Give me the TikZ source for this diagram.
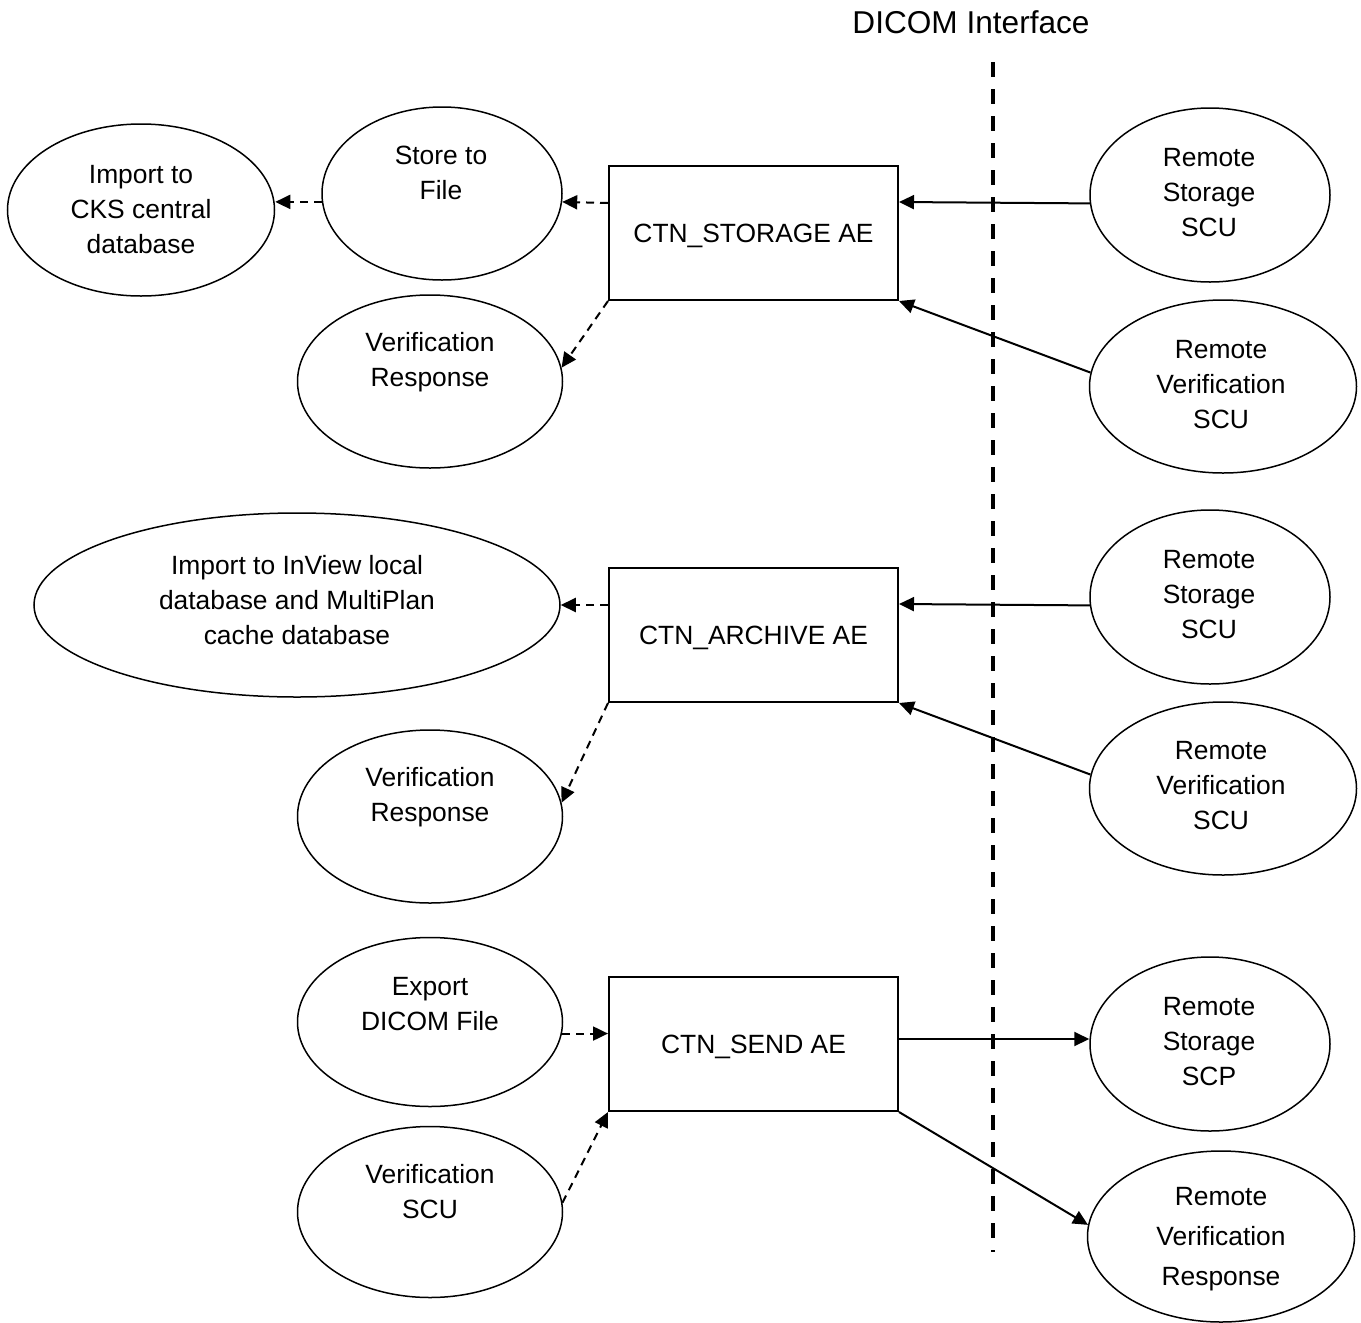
\documentclass[tikz,border=0pt]{standalone}
\usepackage{fontspec}
\setmainfont{Liberation Sans}
\usetikzlibrary{shapes.geometric,arrows.meta,calc}
\begin{document}
\begin{tikzpicture}[x=0.5pt,y=-0.5pt,
  every node/.style={font=\fontsize{13.2}{17.5}\selectfont},
  ell/.style 2 args={draw, ellipse, line width=0.75pt, inner sep=0pt, minimum width={#1*0.5pt}, minimum height={#2*0.5pt}},
  lbl/.style={align=center, inner sep=0pt},
  aebox/.style={draw, rectangle, line width=1pt, inner sep=0pt, minimum width=144.5pt, minimum height=67pt, text depth=0pt},
  arr/.style={line width=1pt, -{Triangle[length=7.5pt,width=7pt]}},
  darr/.style={line width=1pt, dash pattern=on 4pt off 3pt, -{Triangle[length=7.5pt,width=7pt]}},
  divider/.style={line width=2pt, dash pattern=on 7.5pt off 6pt}
]
\useasboundingbox (0,0) rectangle (1361,1323);

% DICOM interface
\node[lbl, font=\fontsize{15.8}{19}\selectfont] (dicom) at (971,22) {DICOM Interface};
\coordinate (dtop) at (993,62);
\coordinate (dbot) at (993,1252);
\draw[divider] (dtop) -- (dbot);

% ---------- Storage ----------
\node[aebox] (stor) at (753.5,233) {CTN\_STORAGE AE};
\node[ell={240}{173}] (stf) at (442,193.5) {};
\node[lbl] (stf-t) at (441,173) {Store to\\File};
\node[ell={267}{172}] (imp) at (141,210) {};
\node[lbl] (imp-t) at (141,210) {Import to\\CKS central\\database};
\node[ell={265}{173}] (ver1) at (430,381.5) {};
\node[lbl] (ver1-t) at (430,362) {Verification\\Response};
\node[ell={240}{174}] (rss1) at (1210,195) {};
\node[lbl] (rss1-t) at (1209,193) {Remote\\Storage\\SCU};
\node[ell={267}{173}] (rvs1) at (1223,386.5) {};
\node[lbl] (rvs1-t) at (1221,385) {Remote\\Verification\\SCU};

\coordinate (storin) at ([yshift=15.5pt]stor.east);
\coordinate (storout) at ([yshift=15pt]stor.west);
\draw[arr] (rss1.184) -- (storin);
\draw[arr] (rvs1.174) -- (stor.south east);
\draw[darr] (storout) -- (stf.-4);
\draw[darr] (stf.184) -- (imp.east |- stf.184);
\draw[darr] (stor.south west) -- (ver1.6);

% ---------- Archive ----------
\node[aebox] (arch) at (753.5,635) {CTN\_ARCHIVE AE};
\node[ell={526}{184}] (inv) at (297,605) {};
\node[lbl] (inv-t) at (297,600) {Import to InView local\\database and MultiPlan\\cache database};
\node[ell={265}{173}] (ver2) at (430,816.5) {};
\node[lbl] (ver2-t) at (430,797) {Verification\\Response};
\node[ell={240}{174}] (rss2) at (1210,597) {};
\node[lbl] (rss2-t) at (1209,595) {Remote\\Storage\\SCU};
\node[ell={267}{173}] (rvs2) at (1223,788.5) {};
\node[lbl] (rvs2-t) at (1221,786) {Remote\\Verification\\SCU};

\coordinate (archin) at ([yshift=15.5pt]arch.east);
\draw[arr] (rss2.184) -- (archin);
\draw[arr] (rvs2.174) -- (arch.south east);
\draw[darr] (arch.west |- inv.east) -- (inv.east);
\draw[darr] (arch.south west) -- (ver2.6);

% ---------- Send ----------
\node[aebox] (send) at (753.5,1044) {CTN\_SEND AE};
\node[ell={265}{169}] (exp) at (430,1022) {};
\node[lbl] (exp-t) at (430,1004) {Export\\DICOM File};
\node[ell={265}{171}] (vscu) at (430,1212) {};
\node[lbl] (vscu-t) at (430,1192) {Verification\\SCU};
\node[ell={240}{174}] (rssp) at (1210,1044) {};
\node[lbl] (rssp-t) at (1209,1042) {Remote\\Storage\\SCP};
\node[ell={267}{171}] (rvr) at (1221,1236.5) {};
\node[lbl, font=\fontsize{13.2}{20}\selectfont] (rvr-t) at (1221,1239) {Remote\\Verification\\Response};

\coordinate (sendout) at ([yshift=2.5pt]send.east);
\draw[darr] (exp.-5.5) -- (send.west |- exp.-5.5);
\draw[darr] (vscu.4) -- (send.south west);
\draw[arr] (sendout) -- (sendout -| rssp.west);
\draw[arr] (send.south east) -- (rvr.175);
\end{tikzpicture}
\end{document}
